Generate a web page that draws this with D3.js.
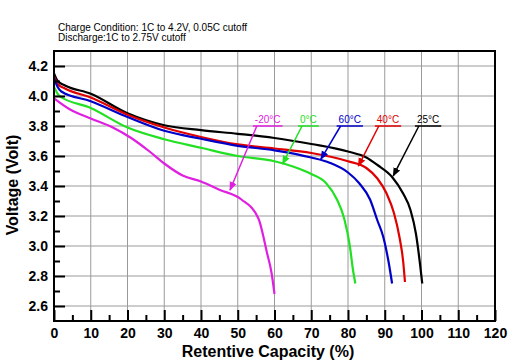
<!DOCTYPE html>
<html>
<head>
<meta charset="utf-8">
<script src="https://cdn.jsdelivr.net/npm/d3@7"></script>
<style>
  body { margin: 0; background: #fff; }
  svg { display: block; font-family: Arial, "Liberation Sans", sans-serif; }
</style>
</head>
<body>
<svg id="chart" width="509" height="362"></svg>
<script>
// discharge curves, [capacity %, voltage V]
const curve25 = [[0,4.15],[1,4.10],[3,4.07],[10,4.015],[20,3.885],[30,3.805],[40,3.772],[50,3.748],[60,3.72],[70,3.68],[80,3.63],[85,3.59],[88,3.54],[92,3.46],[95,3.35],[97,3.24],[98.5,3.08],[99.5,2.90],[100.2,2.75]];
const curve40 = [[0,4.13],[1,4.08],[3,4.05],[10,3.99],[20,3.875],[30,3.79],[40,3.727],[50,3.677],[60,3.65],[70,3.62],[80,3.565],[85,3.52],[88,3.45],[90.5,3.35],[92.5,3.22],[94,3.06],[95,2.90],[95.5,2.76]];
const curve60 = [[0,4.12],[1,4.06],[2,4.03],[10,3.965],[20,3.86],[30,3.768],[40,3.715],[50,3.668],[60,3.638],[70,3.59],[75,3.555],[80,3.49],[83,3.42],[86,3.31],[88,3.17],[89.6,3.06],[91,2.90],[92,2.75]];
const curve0 = [[0,4.06],[1.5,4.00],[10,3.92],[20,3.79],[30,3.712],[40,3.655],[50,3.60],[60,3.565],[65,3.53],[70,3.48],[74,3.42],[77,3.31],[79,3.18],[80.5,3.00],[81.3,2.85],[82,2.75]];
const curveM20 = [[0,3.985],[4.4,3.91],[10,3.85],[16,3.79],[21,3.72],[26,3.63],[30,3.55],[35,3.47],[40,3.43],[45,3.375],[51,3.31],[55.6,3.185],[58,2.95],[59.2,2.82],[60,2.68]];

const seriesNames = ['25°C', '40°C', '60°C', '0°C', '-20°C'];
const seriesColors = ['#000000', '#e00000', '#0000c8', '#22e022', '#e020e0'];
const seriesData = [curve25, curve40, curve60, curve0, curveM20];

// label anchor (capacity %, voltage) and arrow tip (capacity %, voltage)
const labelAt = [[98.2,3.8],[87.3,3.8],[76.9,3.8],[66.4,3.8],[54.1,3.8]];
const arrowTip = [[92.3,3.467],[82.8,3.533],[72.6,3.578],[62.2,3.547],[47.9,3.373]];

const xTicks = d3.range(0, 121, 10);
const yTicks = [2.6, 2.8, 3.0, 3.2, 3.4, 3.6, 3.8, 4.0, 4.2];

const svg = d3.select('#chart');
const x = d3.scaleLinear().domain([0, 120]).range([54, 495]);
const y = d3.scaleLinear().domain([2.5, 4.3]).range([321, 51]);

// header text
svg.append('text').attr('x', 58).attr('y', 31).attr('font-size', 10)
  .text('Charge Condition: 1C to 4.2V, 0.05C cutoff');
svg.append('text').attr('x', 58).attr('y', 41).attr('font-size', 10)
  .text('Discharge:1C to 2.75V cutoff');

// grid
const grid = svg.append('g').attr('stroke', '#9a9a9a').attr('stroke-width', 1);
xTicks.filter(d => d > 0 && d < 120).forEach(d => {
  grid.append('line').attr('x1', x(d)).attr('x2', x(d)).attr('y1', y(4.3)).attr('y2', y(2.5));
});
yTicks.forEach(d => {
  grid.append('line').attr('x1', x(0)).attr('x2', x(120)).attr('y1', y(d)).attr('y2', y(d));
});

// curves
const line = d3.line().x(d => x(d[0])).y(d => y(d[1])).curve(d3.curveMonotoneX);
seriesData.forEach((data, i) => {
  svg.append('path').datum(data)
    .attr('d', line)
    .attr('fill', 'none')
    .attr('stroke', seriesColors[i])
    .attr('stroke-width', 2.2)
    .attr('stroke-linejoin', 'round');
});

// labels with leader arrows
const defs = svg.append('defs');
seriesColors.forEach((c, i) => {
  defs.append('marker').attr('id', 'arr' + i)
    .attr('viewBox', '0 0 10 10').attr('refX', 9).attr('refY', 5)
    .attr('markerWidth', 6).attr('markerHeight', 6).attr('orient', 'auto')
    .append('path').attr('d', 'M0,1L10,5L0,9Z').attr('fill', c);
});
seriesNames.forEach((name, i) => {
  const lx = x(labelAt[i][0]), ly = y(labelAt[i][1]);
  const t = svg.append('text').attr('x', lx + 2).attr('y', ly - 3)
    .attr('font-size', 10).attr('fill', seriesColors[i]).text(name);
  const w = t.node().getComputedTextLength();
  svg.append('line').attr('x1', lx).attr('x2', lx + w + 4).attr('y1', ly).attr('y2', ly)
    .attr('stroke', seriesColors[i]).attr('stroke-width', 1.5);
  svg.append('line').attr('x1', lx + 4).attr('y1', ly)
    .attr('x2', x(arrowTip[i][0])).attr('y2', y(arrowTip[i][1]))
    .attr('stroke', seriesColors[i]).attr('stroke-width', 1.5)
    .attr('marker-end', 'url(#arr' + i + ')');
});

// frame
svg.append('rect').attr('x', x(0)).attr('y', y(4.3))
  .attr('width', x(120) - x(0)).attr('height', y(2.5) - y(4.3))
  .attr('fill', 'none').attr('stroke', '#000').attr('stroke-width', 2);

// y axis ticks (inward)
const yAxis = svg.append('g').attr('transform', `translate(${x(0)},0)`)
  .call(d3.axisLeft(y).tickValues(yTicks).tickFormat(d3.format('.1f')).tickSizeInner(-11).tickSizeOuter(0).tickPadding(6));
yAxis.select('.domain').remove();
yAxis.selectAll('.tick line').attr('stroke', '#000').attr('stroke-width', 2);
yAxis.selectAll('text').attr('font-size', 14).attr('font-weight', 'bold').attr('fill', '#000')
  .attr('font-family', 'Arial, "Liberation Sans", sans-serif');
const yMinor = svg.append('g').attr('transform', `translate(${x(0)},0)`)
  .call(d3.axisLeft(y).tickValues(d3.range(2.7, 4.21, 0.2)).tickSizeInner(-6).tickSizeOuter(0).tickFormat(''));
yMinor.select('.domain').remove();
yMinor.selectAll('.tick line').attr('stroke', '#000').attr('stroke-width', 2);

// x axis ticks (inward)
const xAxis = svg.append('g').attr('transform', `translate(0,${y(2.5)})`)
  .call(d3.axisBottom(x).tickValues(xTicks).tickSizeInner(-11).tickSizeOuter(0).tickPadding(7));
xAxis.select('.domain').remove();
xAxis.selectAll('.tick line').attr('stroke', '#000').attr('stroke-width', 2);
xAxis.selectAll('text').attr('font-size', 14).attr('font-weight', 'bold').attr('fill', '#000')
  .attr('font-family', 'Arial, "Liberation Sans", sans-serif');
const xMinor = svg.append('g').attr('transform', `translate(0,${y(2.5)})`)
  .call(d3.axisBottom(x).tickValues(d3.range(5, 120, 10)).tickSizeInner(-6).tickSizeOuter(0).tickFormat(''));
xMinor.select('.domain').remove();
xMinor.selectAll('.tick line').attr('stroke', '#000').attr('stroke-width', 2);

// axis titles
svg.append('text').attr('x', 268).attr('y', 357)
  .attr('text-anchor', 'middle').attr('font-size', 16).attr('font-weight', 'bold')
  .text('Retentive Capacity (%)');
svg.append('text').attr('transform', 'translate(18,185) rotate(-90)')
  .attr('text-anchor', 'middle').attr('font-size', 16).attr('font-weight', 'bold')
  .text('Voltage (Volt)');
</script>
</body>
</html>
